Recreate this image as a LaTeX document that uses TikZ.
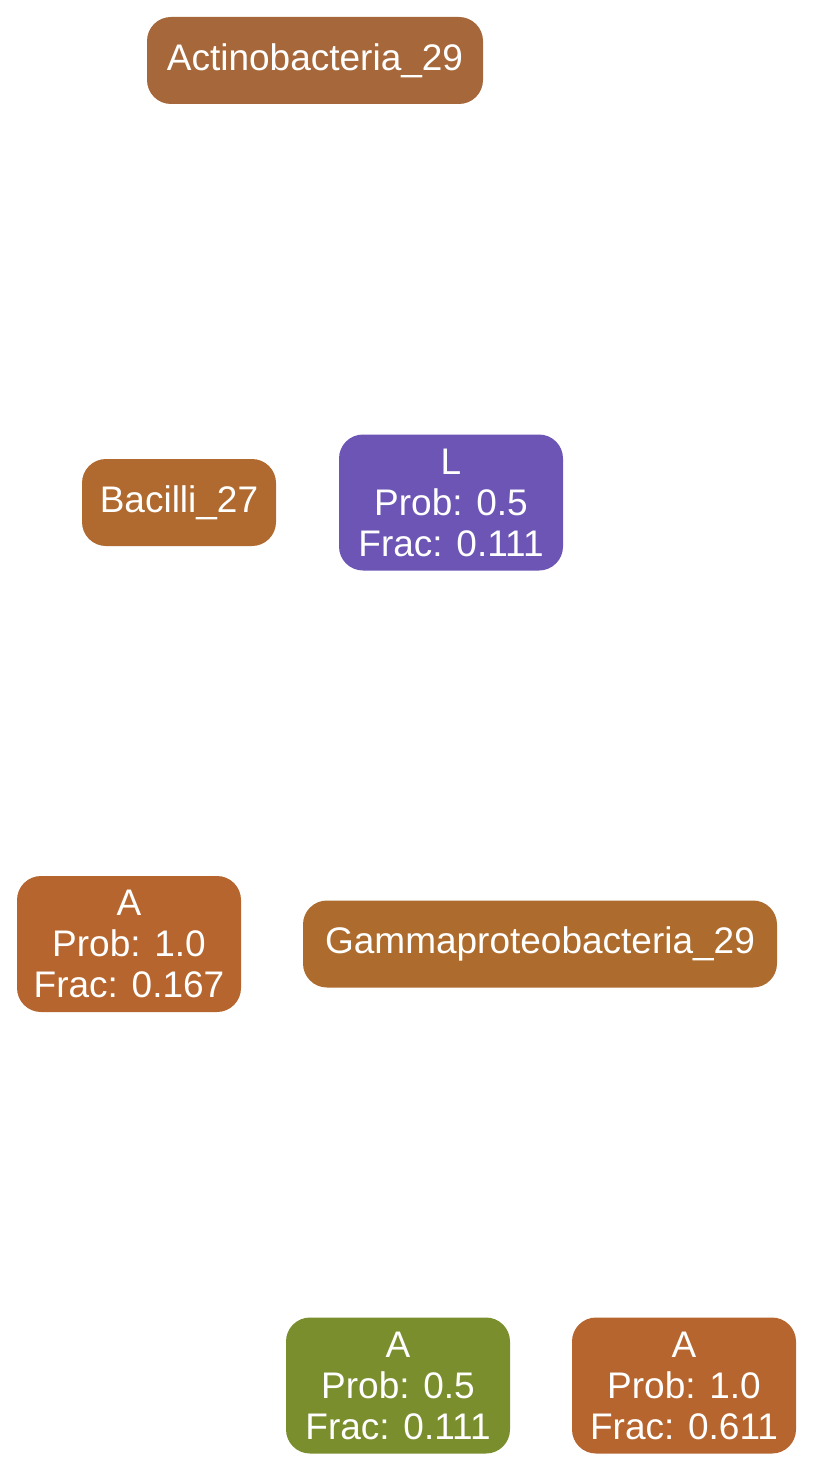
\documentclass[tikz,border=0pt]{standalone}
\usepackage{fontspec}
\setmainfont{Liberation Sans}
\usepackage{tikz}
\usetikzlibrary{
    positioning,
    arrows.meta
}
\definecolor{actino}{RGB}{166,104,58}
\definecolor{bacil}{RGB}{176,105,46}
\definecolor{gamma}{RGB}{173,108,46}
\definecolor{ruleL}{RGB}{108,85,181}
\definecolor{ruleA}{RGB}{182,101,46}
\definecolor{ruleG}{RGB}{122,142,46}
\tikzset{
    >=Stealth,
    every box/.style={
        rounded corners=24pt,
        text=white,
        inner sep=0pt,
        align=center,
        font=\fontsize{37}{41}\selectfont
    },
    taxon/.style={
        every box,
        minimum height=87pt
    },
    rulebox/.style={
        every box,
        minimum width=224pt,
        minimum height=136pt
    }
}

\begin{document}
\begin{tikzpicture}[
    x=1pt,
    y=-1pt
]

    \useasboundingbox (0,0) rectangle (814,1471);

    % Taxones
    \node[taxon, fill=actino, minimum width=336pt] (actino) at (315,60.5)   {Actinobacteria\_29};
    \node[taxon, fill=bacil, minimum width=194pt]  (bacil)  at (179,502.5)  {Bacilli\_27};
    \node[taxon, fill=gamma, minimum width=474pt]  (gamma)  at (540,944)    {Gammaproteobacteria\_29};

    % Reglas
    \node[rulebox, fill=ruleL] (rL)  at (451,502.5)  {L\\Prob: 0.5\\Frac: 0.111};
    \node[rulebox, fill=ruleA] (rA1) at (129,944)    {A\\Prob: 1.0\\Frac: 0.167};
    \node[rulebox, fill=ruleG] (rA2) at (398,1385.5) {A\\Prob: 0.5\\Frac: 0.111};
    \node[rulebox, fill=ruleA] (rA3) at (684,1385.5) {A\\Prob: 1.0\\Frac: 0.611};

\end{tikzpicture}
\end{document}
